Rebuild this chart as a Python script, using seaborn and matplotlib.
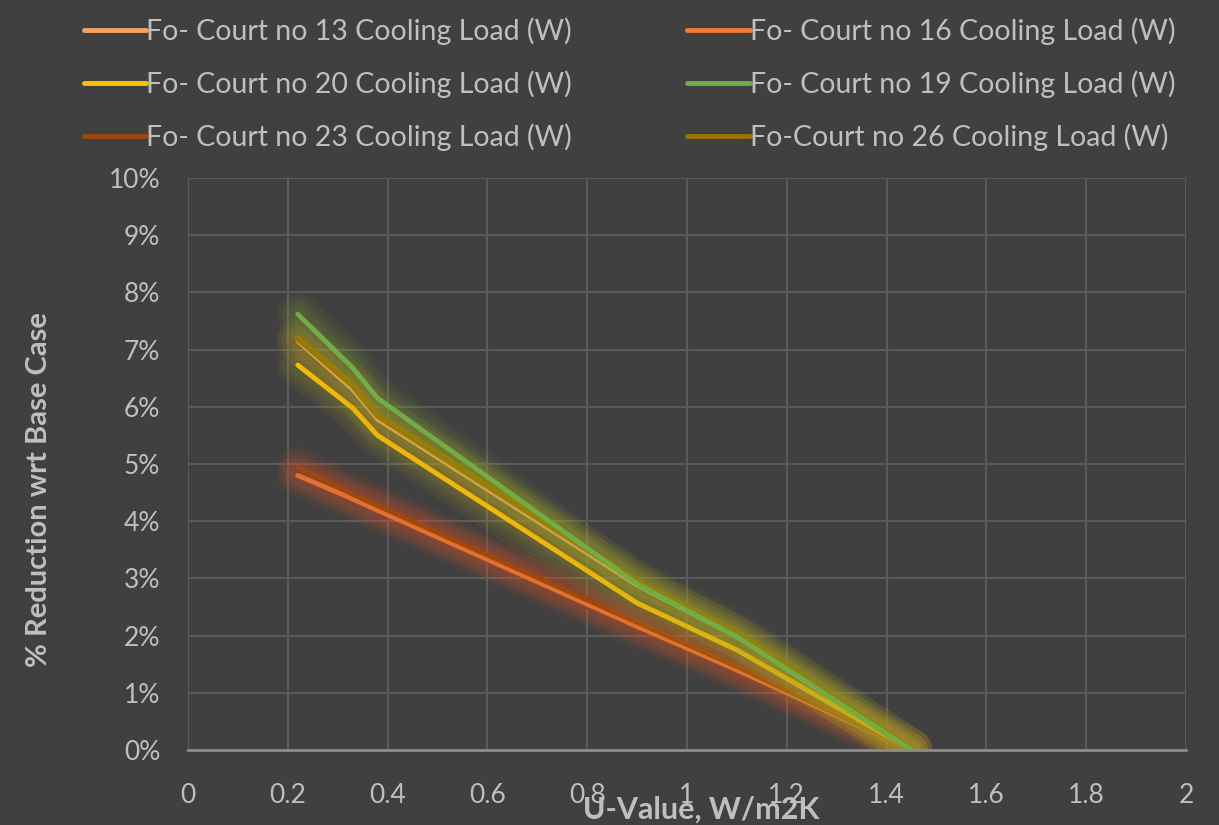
import numpy as np
import pandas as pd
import seaborn as sns
import matplotlib
matplotlib.use("Agg")
import matplotlib.pyplot as plt
import matplotlib.patheffects as pe
from matplotlib.lines import Line2D
from matplotlib.ticker import FuncFormatter, MultipleLocator

# U-values (W/m2K) and % reduction
u_value = [0.22, 0.33, 0.38, 0.9, 1.1, 1.45]

court_13 = [7.15, 6.30, 5.78, 2.88, 1.98, 0.0]
court_16 = [4.80, 4.39, 4.19, 2.16, 1.40, 0.0]
court_20 = [6.73, 5.98, 5.50, 2.57, 1.75, 0.0]
court_19 = [7.62, 6.68, 6.15, 2.90, 1.98, 0.0]
court_23 = [4.95, 4.47, 4.27, 2.23, 1.46, 0.0]
court_26 = [7.20, 6.38, 5.85, 2.95, 2.05, 0.0]

names = {
    "13": "Fo- Court no 13 Cooling Load (W)",
    "16": "Fo- Court no 16 Cooling Load (W)",
    "20": "Fo- Court no 20 Cooling Load (W)",
    "19": "Fo- Court no 19 Cooling Load (W)",
    "23": "Fo- Court no 23 Cooling Load (W)",
    "26": "Fo-Court no 26 Cooling Load (W)",
}
colors = {
    "13": "#F4A262",
    "16": "#ED7D31",
    "20": "#FFC000",
    "19": "#70AD47",
    "23": "#9E480E",
    "26": "#997300",
}
widths = {"13": 3.2, "16": 3.5, "20": 3.5, "19": 3.5, "23": 3.5, "26": 4.6}
glow = {"13": "#C89A30", "16": "#E8602A", "20": "#B8B020", "19": "#90B030",
        "23": "#D0502A", "26": "#B0A020"}

# drawing order (last on top)
draw_order = ["16", "23", "20", "13", "26", "19"]
# legend order, two columns filled column-wise
legend_order = ["13", "20", "23", "16", "19", "26"]

series = {"13": court_13, "16": court_16, "20": court_20,
          "19": court_19, "23": court_23, "26": court_26}
df = pd.concat([
    pd.DataFrame({"U": u_value, "Reduction": vals, "Series": names[k]})
    for k, vals in series.items()
])

bg = "#404040"
txt = "#BFBFBF"

sns.set_style("dark")
plt.rcParams["font.family"] = ["Lato", "DejaVu Sans"]

fig = plt.figure(figsize=(12.19, 8.25), dpi=100, facecolor=bg)
ax = fig.add_axes([188 / 1219, 1 - 750 / 825, 998 / 1219, 572 / 825])
ax.set_facecolor(bg)

sns.lineplot(
    data=df, x="U", y="Reduction", hue="Series",
    hue_order=[names[k] for k in draw_order],
    palette={names[k]: colors[k] for k in draw_order},
    sort=False, legend=False, ax=ax,
)

for line, k in zip(ax.lines, draw_order):
    line.set_linewidth(widths[k])
    line.set_solid_capstyle("round")
    line.set_solid_joinstyle("round")
    effects = [pe.Stroke(linewidth=w, foreground=glow[k], alpha=0.07)
               for w in (30, 24, 18, 13)]
    line.set_path_effects(effects + [pe.Normal()])

ax.set_xlim(0, 2)
ax.set_ylim(0, 10)
ax.xaxis.set_major_locator(MultipleLocator(0.2))
ax.yaxis.set_major_locator(MultipleLocator(1))
ax.xaxis.set_major_formatter(FuncFormatter(lambda v, p: f"{v:g}"))
ax.yaxis.set_major_formatter(FuncFormatter(lambda v, p: f"{v:.0f}%"))

ax.grid(True, color="#5A5A5A", linewidth=1.5)
ax.set_axisbelow(True)
for s in ["top", "right", "left"]:
    ax.spines[s].set_visible(False)
ax.spines["bottom"].set_color("#8C8C8C")
ax.spines["bottom"].set_linewidth(2)

ax.tick_params(axis="both", length=0, labelsize=19, labelcolor=txt)
ax.tick_params(axis="x", pad=24)
ax.tick_params(axis="y", pad=20)

ax.set_xlabel("U-Value, W/m2K", fontsize=22, fontweight="bold", color=txt)
ax.xaxis.set_label_coords((701 - 188) / 998, -0.080)
ax.set_ylabel("% Reduction wrt Base Case", fontsize=21, fontweight="bold", color=txt)
ax.yaxis.set_label_coords(-0.136, 0.455)

handles = [Line2D([0], [0], color=colors[k], linewidth=3.5) for k in legend_order]
labels = [names[k] for k in legend_order]
leg = fig.legend(
    handles, labels, ncol=2, loc="upper left",
    bbox_to_anchor=(58 / 1219, 1 + 8 / 825),
    frameon=False, fontsize=20.5, labelcolor=txt,
    handlelength=2.2, handletextpad=0.0, columnspacing=4.05,
    labelspacing=0.88,
)

fig.savefig("out.png", dpi=100, facecolor=bg)
